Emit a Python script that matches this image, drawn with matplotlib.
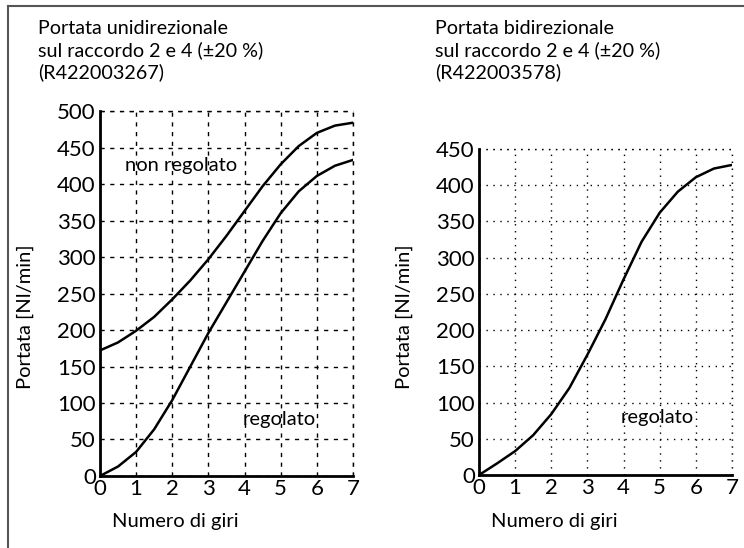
import matplotlib
matplotlib.use("Agg")
import matplotlib.pyplot as plt
from matplotlib.lines import Line2D

plt.rcParams["font.family"] = ["Lato", "DejaVu Sans"]

# turns of the adjusting screw
giri = [0, 0.5, 1, 1.5, 2, 2.5, 3, 3.5, 4, 4.5, 5, 5.5, 6, 6.5, 7]

# unidirectional flow (R422003267)
uni_non_regolato = [172, 183, 199, 218, 242, 268, 297, 329, 363, 397, 427, 452, 470, 480, 484]
uni_regolato = [0, 13, 33, 64, 104, 150, 196, 238, 280, 322, 360, 390, 411, 425, 433]

# bidirectional flow (R422003578)
bi_regolato = [0, 16, 33, 55, 84, 120, 166, 215, 270, 322, 362, 391, 411, 423, 428]

x_ticks = list(range(0, 8))
uni_y_ticks = list(range(0, 501, 50))
bi_y_ticks = list(range(0, 451, 50))

uni_title = "Portata unidirezionale\nsul raccordo 2 e 4 (±20 %)\n(R422003267)"
bi_title = "Portata bidirezionale\nsul raccordo 2 e 4 (±20 %)\n(R422003578)"


def style_axes(ax, y_ticks, grid_dashes, label_y):
    ax.set_xlim(0, 7)
    ax.set_ylim(0, y_ticks[-1])
    ax.set_xticks(x_ticks)
    ax.set_yticks(y_ticks)
    ax.tick_params(length=0, labelsize=16)
    ax.tick_params(axis="y", pad=3)
    ax.tick_params(axis="x", pad=2)
    for side in ("top", "right"):
        ax.spines[side].set_visible(False)
    for side in ("left", "bottom"):
        ax.spines[side].set_linewidth(2.0)
        ax.spines[side].set_color("black")
    ax.set_axisbelow(True)
    ax.grid(True, color="black", linewidth=1.0, dashes=grid_dashes)
    # the outer gridlines at the top and right edges
    ax.axhline(y_ticks[-1], color="black", linewidth=1.0, dashes=grid_dashes, clip_on=False)
    ax.axvline(7, color="black", linewidth=1.0, dashes=grid_dashes, clip_on=False)
    ax.set_ylabel("Portata [Nl/min]", fontsize=14.5)
    ax.yaxis.set_label_coords(-0.259, label_y)


fig = plt.figure(figsize=(7.44, 5.48), dpi=100)
curve_kw = dict(color="black", linewidth=1.8, solid_joinstyle="round")

ax1 = fig.add_axes([0.1344, 0.1314, 0.340, 0.666])
ax1.plot(giri, uni_non_regolato, **curve_kw)
ax1.plot(giri, uni_regolato, **curve_kw)
style_axes(ax1, uni_y_ticks, (3, 4), 0.436)
ax1.text(2.25, 426, "non regolato", fontsize=14.5, ha="center", va="center")
ax1.text(4.95, 77, "regolato", fontsize=14.5, ha="center", va="center")

ax2 = fig.add_axes([0.6438, 0.1332, 0.340, 0.5949])
ax2.plot(giri, bi_regolato, **curve_kw)
style_axes(ax2, bi_y_ticks, (1, 4), 0.485)
ax2.text(4.92, 79, "regolato", fontsize=14.5, ha="center", va="center")

for x in (175 / 744, 554 / 744):
    fig.text(x, 1 - 522 / 548, "Numero di giri", fontsize=14.5, ha="center", va="center")

fig.text(38 / 744, 1 - 20 / 548, uni_title, fontsize=14.2, ha="left", va="top", linespacing=1.28)
fig.text(435 / 744, 1 - 20 / 548, bi_title, fontsize=14.2, ha="left", va="top", linespacing=1.28)

# frame lines along the top and left edges
fig.add_artist(Line2D([8 / 744, 1], [1 - 5.5 / 548, 1 - 5.5 / 548], color="#555555", linewidth=1.5))
fig.add_artist(Line2D([8 / 744, 8 / 744], [0, 1 - 5.5 / 548], color="#555555", linewidth=1.5))

fig.savefig("out.png", dpi=100)
